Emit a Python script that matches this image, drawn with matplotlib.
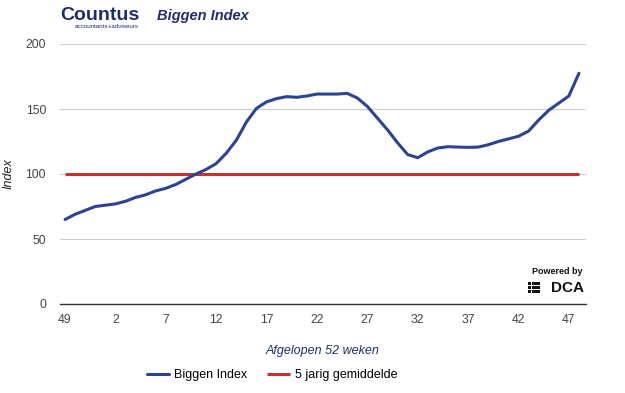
import numpy as np
import matplotlib.pyplot as plt
from matplotlib.patches import Rectangle

# weeks 49..52 of last year, then 1..48
weeks = [49, 50, 51, 52] + list(range(1, 49))
biggen = [65, 69, 72, 75, 76, 77, 79, 82, 84, 87,
          89, 92, 96, 100, 103.5, 108, 116, 126, 140, 150.5,
          155.5, 158, 159.5, 159, 160, 161.5, 161.5, 161.5, 162, 158.5,
          152, 143, 134, 124, 115, 112.5, 117, 120, 121, 120.7,
          120.5, 120.7, 122.5, 125, 127, 129, 133, 141.5, 149, 154.5,
          160, 177.5]
gemiddelde = [100] * len(weeks)

BLUE = "#2c4391"
RED = "#c8312f"
NAVY = "#1f2d6b"

plt.rcParams.update({"font.family": ["Liberation Sans", "DejaVu Sans"]})

fig = plt.figure(figsize=(6.25, 3.93), dpi=100)
ax = fig.add_axes([60/625, 1-304/393, 526/625, 260/393])

x = np.arange(len(weeks))
ax.plot(x, gemiddelde, color=RED, lw=2.2, solid_capstyle="butt", zorder=3,
        label="5 jarig gemiddelde")
ax.plot(x, biggen, color=BLUE, lw=2.2, solid_joinstyle="round",
        solid_capstyle="round", zorder=4, label="Biggen Index")

ax.set_xlim(-0.5, 51.7)
ax.set_ylim(0, 200)
ax.set_yticks([0, 50, 100, 150, 200])
ax.set_xticks(x[::5])
ax.set_xticklabels([str(w) for w in weeks[::5]])
ax.tick_params(length=0, labelsize=8.8, colors="#444444", pad=7)
ax.tick_params(axis="y", pad=10)
ax.grid(axis="y", color="#cccccc", lw=0.8)
ax.set_axisbelow(True)
for s in ["top", "right", "left"]:
    ax.spines[s].set_visible(False)
ax.spines["bottom"].set_color("#333333")
ax.spines["bottom"].set_linewidth(1.0)
ax.spines["bottom"].set_zorder(5)

ax.set_ylabel("Index", style="italic", fontsize=9, color="#222222")
ax.yaxis.set_label_coords(-0.086, 0.5)
ax.set_xlabel("Afgelopen 52 weken", style="italic", fontsize=9, color=NAVY)
ax.xaxis.set_label_coords(0.5, -0.158)

h, l = ax.get_legend_handles_labels()
fig.legend(h[::-1], l[::-1], loc="center", bbox_to_anchor=(0.435, 1-375/393),
           ncol=2, frameon=False, fontsize=9, handlelength=1.8,
           handletextpad=0.4, columnspacing=1.6)

# header
fig.text(60/625, 1-15/393, "Countus", fontsize=14, weight="bold", color=NAVY,
         va="center", ha="left")
fig.text(75/625, 1-26/393, "accountants+adviseurs", fontsize=4.5, color=NAVY,
         va="center", ha="left")
fig.text(157/625, 1-16/393, "Biggen Index", fontsize=10.5, weight="bold",
         style="italic", color=NAVY, va="center", ha="left")

# Powered by DCA badge
fig.text(583/625, 1-271/393, "Powered by", fontsize=6.5, weight="bold",
         color="#111111", ha="right", va="center")
fig.text(584/625, 1-288/393, "DCA", fontsize=11, weight="bold",
         color="#111111", ha="right", va="center")
for r in range(3):
    for c in range(3):
        fig.patches.append(Rectangle(((528 + c*4.2)/625, 1-(281.5 + r*4.2 + 3.3)/393),
                                     3.3/625, 3.3/393, transform=fig.transFigure,
                                     color="#111111", lw=0))

fig.savefig("out.png", dpi=100, facecolor="white")
